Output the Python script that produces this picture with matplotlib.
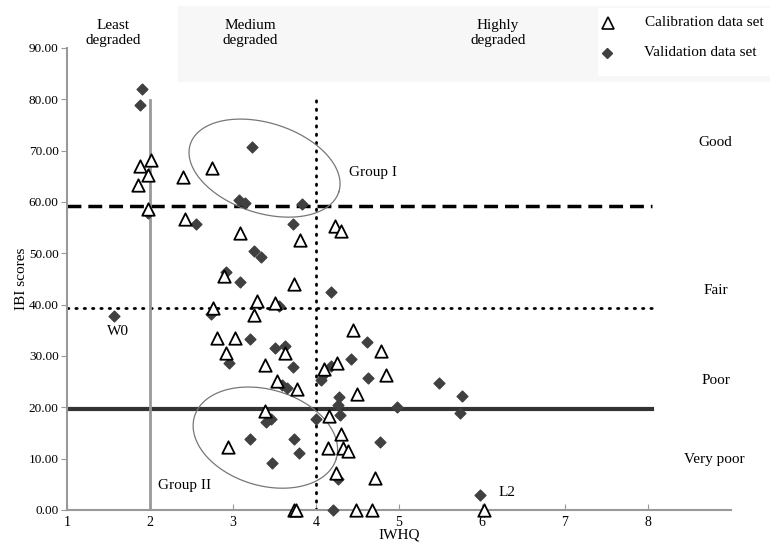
import numpy as np
import matplotlib
matplotlib.use("Agg")
import matplotlib.pyplot as plt
from matplotlib.patches import Rectangle

plt.rcParams['font.family'] = ['Liberation Serif', 'DejaVu Serif']

# Calibration data set (triangles)
cal_x = [1.88, 2.01, 1.98, 1.86, 1.98, 2.40, 2.75, 2.42, 3.08, 3.81, 4.23, 4.30,
         2.89, 3.73, 3.29, 3.51, 2.76, 3.25, 2.81, 3.02, 2.92, 3.63, 3.38, 3.53,
         3.77, 3.39, 4.44, 4.25, 4.10, 4.78, 4.84, 4.49, 4.16, 4.30, 4.14, 4.32,
         4.39, 4.24, 4.71, 3.73, 3.76, 4.48, 4.68, 6.02, 2.94]
cal_y = [67.0, 68.2, 65.3, 63.3, 58.6, 64.9, 66.6, 56.6, 54.0, 52.6, 55.4, 54.4,
         45.6, 44.0, 40.8, 40.4, 39.3, 37.9, 33.5, 33.5, 30.5, 30.6, 28.2, 25.2,
         23.5, 19.2, 35.1, 28.7, 27.5, 31.0, 26.3, 22.6, 18.4, 14.9, 12.0, 12.0,
         11.5, 7.3, 6.2, 0.0, 0.0, 0.0, 0.0, 0.0, 12.3]

# Validation data set (diamonds)
val_x = [1.90, 1.88, 1.97, 3.23, 3.07, 3.14, 3.83, 2.55, 3.72, 3.25, 3.34, 2.91,
         3.08, 4.18, 3.56, 2.74, 3.21, 3.51, 3.63, 2.95, 3.72, 3.59, 3.65, 4.62,
         4.42, 4.18, 4.10, 4.06, 4.63, 4.28, 4.26, 4.97, 4.29, 3.40, 3.46, 4.00,
         3.21, 3.73, 3.80, 3.47, 4.77, 4.26, 4.21, 5.97, 5.48, 5.76, 5.73, 1.57]
val_y = [82.0, 78.8, 57.8, 70.7, 60.4, 59.8, 59.6, 55.7, 55.7, 50.5, 49.3, 46.3,
         44.4, 42.5, 39.7, 38.2, 33.3, 31.5, 32.0, 28.6, 27.9, 24.3, 23.8, 32.7,
         29.4, 28.1, 26.5, 25.3, 25.7, 22.1, 20.5, 20.1, 18.6, 17.1, 17.7, 17.7,
         13.8, 13.8, 11.2, 9.1, 13.3, 6.0, 0.0, 2.9, 24.7, 22.2, 18.8, 37.8]

# Thresholds
good_fair = 59.2
fair_poor = 39.4
poor_vpoor = 19.6
least_medium = 2
medium_high = 4

x_ticks = [1, 2, 3, 4, 5, 6, 7, 8]
y_ticks = [0, 10, 20, 30, 40, 50, 60, 70, 80, 90]

W, H = 770, 548
fig = plt.figure(figsize=(W / 100, H / 100), dpi=100)
# faint top band
fig.patches.append(Rectangle((178 / W, 1 - 82 / H), 1 - 178 / W, 76 / H,
                             transform=fig.transFigure, facecolor='#f7f7f7',
                             edgecolor='none', zorder=0))
fig.patches.append(Rectangle((598 / W, 1 - 76 / H), 172 / W, 68 / H,
                             transform=fig.transFigure, facecolor='white',
                             edgecolor='none', zorder=0))

left, right, bottom, top = 67, 731, 510, 48
ax = fig.add_axes([left / W, 1 - bottom / H, (right - left) / W, (bottom - top) / H])
ax.set_facecolor('none')
ax.set_xlim(1, 9)
ax.set_ylim(0, 90)

for s in ['top', 'right']:
    ax.spines[s].set_visible(False)
for s in ['left', 'bottom']:
    ax.spines[s].set_color('#999999')
    ax.spines[s].set_linewidth(1.5)

ax.set_xticks(x_ticks)
ax.set_xticklabels([str(v) for v in x_ticks], fontsize=10)
ax.set_yticks(y_ticks)
ax.set_yticklabels(['%.2f' % v for v in y_ticks], fontsize=9.5)
ax.tick_params(axis='x', direction='in', length=4, color='#999999', pad=4)
ax.tick_params(axis='y', direction='out', length=4, color='#999999', pad=2)

ax.set_xlabel('IWHQ', fontsize=11, labelpad=0)
ax.set_ylabel('IBI scores', fontsize=11)
ax.yaxis.set_label_coords(-0.058, 0.50)

# threshold lines
ax.plot([1, 8.05], [good_fair] * 2, color='black', lw=2.5, ls=(0, (4, 2)), zorder=2)
ax.plot([1, 8.05], [fair_poor] * 2, color='black', lw=2, ls=(0, (0.5, 2.5)),
        dash_capstyle='round', zorder=2)
ax.plot([1, 8.05], [poor_vpoor] * 2, color='#333333', lw=3, zorder=2)
ax.plot([least_medium] * 2, [0, 79.8], color='#999999', lw=2, zorder=2)
ax.plot([medium_high] * 2, [0, 79.8], color='black', lw=2, ls=(0, (0.5, 2.5)),
        dash_capstyle='round', zorder=2)

# ellipses (drawn in pixel space, converted to data units)
ppx = (right - left) / 8.0
ppy = (bottom - top) / 90.0


def ellipse(cx, cy, a, b, theta_deg):
    t = np.linspace(0, 2 * np.pi, 300)
    th = np.radians(theta_deg)
    dx = a * np.cos(t) * np.cos(th) - b * np.sin(t) * np.sin(th)
    dy = a * np.cos(t) * np.sin(th) + b * np.sin(t) * np.cos(th)
    ax.plot(cx + dx / ppx, cy - dy / ppy, color='#777777', lw=0.9, zorder=3)


ellipse(3.38, 66.6, 78, 45, 17.8)
ellipse(3.39, 14.1, 74, 48, 16.5)

ax.scatter(cal_x, cal_y, marker='^', s=80, facecolors='white', edgecolors='black',
           linewidths=1.3, zorder=5, clip_on=False)
ax.scatter(val_x, val_y, marker='D', s=30, color='#404040', zorder=4, clip_on=False)

# annotations
fs = 11
ax.text(4.40, 65.8, 'Group I', fontsize=fs, ha='left', va='center')
ax.text(2.10, 4.7, 'Group II', fontsize=fs, ha='left', va='center')
ax.text(1.61, 34.7, 'W0', fontsize=fs, ha='center', va='center')
ax.text(6.20, 3.5, 'L2', fontsize=fs, ha='left', va='center')


def fig_text(px, py, s, **kw):
    fig.text(px / W, 1 - py / H, s, fontsize=fs, **kw)


fig_text(113, 33, 'Least\ndegraded', ha='center', va='center', linespacing=1.2)
fig_text(250, 33, 'Medium\ndegraded', ha='center', va='center', linespacing=1.2)
fig_text(498, 33, 'Highly\ndegraded', ha='center', va='center', linespacing=1.2)
fig_text(715, 142, 'Good', ha='center', va='center')
fig_text(716, 290, 'Fair', ha='center', va='center')
fig_text(716, 381, 'Poor', ha='center', va='center')
fig_text(714, 460, 'Very poor', ha='center', va='center')

# legend
fig.lines.append(plt.Line2D([608 / W], [1 - 23 / H], transform=fig.transFigure,
                            marker='^', ms=8, mfc='white', mec='black', mew=1.2, ls='none'))
fig.lines.append(plt.Line2D([607 / W], [1 - 53 / H], transform=fig.transFigure,
                            marker='D', ms=5, color='#404040', ls='none'))
fig_text(645, 23, 'Calibration data set', ha='left', va='center')
fig_text(644, 53, 'Validation data set', ha='left', va='center')

fig.savefig('out.png', dpi=100)
